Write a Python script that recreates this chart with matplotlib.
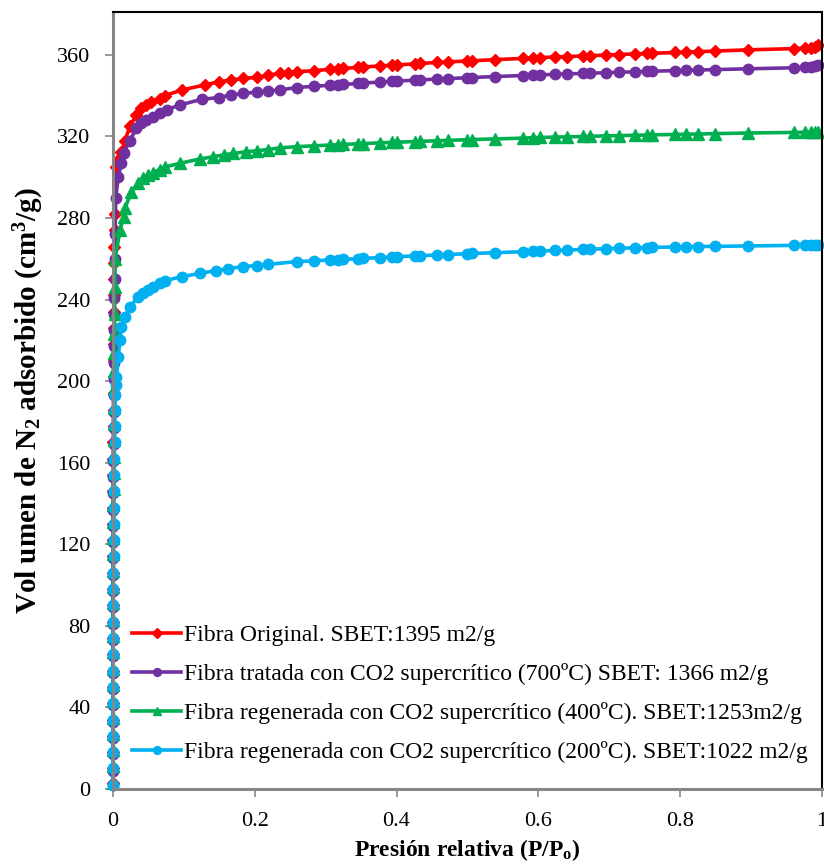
import matplotlib
matplotlib.use('Agg')
import matplotlib.pyplot as plt

plt.rcParams['font.family'] = ['Liberation Serif', 'DejaVu Serif']
plt.rcParams['mathtext.fontset'] = 'custom'
plt.rcParams['mathtext.rm'] = 'Liberation Serif:bold'
plt.rcParams['mathtext.it'] = 'Liberation Serif:bold'
plt.rcParams['mathtext.bf'] = 'Liberation Serif:bold'

# presiones comunes de la meseta (P/Po)
p_meseta = [0.283, 0.306, 0.318, 0.325, 0.346, 0.353, 0.377, 0.393, 0.400, 0.426,
            0.433, 0.457, 0.473, 0.499, 0.506, 0.539, 0.579, 0.593, 0.602, 0.623,
            0.640, 0.663, 0.673, 0.696, 0.713, 0.736, 0.753, 0.760, 0.793, 0.808,
            0.825, 0.849, 0.896, 0.961, 0.976, 0.985, 0.990, 0.995]

# Fibra original
x_orig = [0.00001, 0.00002, 0.00003, 0.00005, 0.00007, 0.0001, 0.00013, 0.00016, 0.0002,
          0.00025, 0.0003, 0.00035, 0.0004, 0.00045, 0.0005, 0.00055, 0.0006, 0.00065,
          0.0007, 0.00075, 0.0008, 0.00085, 0.0009, 0.00095, 0.001, 0.0011, 0.0012,
          0.0013, 0.0014, 0.0015, 0.0016, 0.0018, 0.002, 0.0022, 0.0025, 0.003,
          0.005, 0.008, 0.012, 0.017, 0.024, 0.033, 0.040, 0.047, 0.054, 0.066, 0.073,
          0.097, 0.130, 0.149, 0.167, 0.184, 0.203, 0.219, 0.235, 0.247, 0.259] + p_meseta
y_orig = [3, 10, 18, 26, 34, 42, 50, 58, 66, 74, 82, 90, 98, 106, 114, 122, 130, 138,
          146, 154, 162, 170, 178, 186, 194, 202, 210, 218, 226, 234, 242, 250, 258,
          266, 274, 282,
          305, 309, 312.5, 318, 325, 330.5, 334, 335.5, 337, 338.6, 340,
          342.8, 345.3, 346.8, 347.7, 348.5, 349, 350, 351, 351.3, 351.7,
          352.3, 352.9, 353.2, 353.4, 353.9, 354.1, 354.6, 355.0, 355.1, 355.6,
          355.8, 356.3, 356.6, 357.0, 357.1, 357.7, 358.3, 358.5, 358.7, 359.0,
          359.2, 359.5, 359.6, 360.0, 360.2, 360.5, 360.7, 360.8, 361.2, 361.4,
          361.6, 361.9, 362.5, 363.1, 363.4, 363.6, 364.0, 364.8]

# Fibra tratada 700ºC
x_700 = [0.00001, 0.00002, 0.00004, 0.00006, 0.00008, 0.0001, 0.00014, 0.00018, 0.00022,
         0.00027, 0.00032, 0.00037, 0.00042, 0.00047, 0.00052, 0.00057, 0.00062, 0.00067,
         0.00072, 0.00077, 0.00082, 0.00087, 0.00092, 0.001, 0.0011, 0.0012, 0.0013,
         0.0014, 0.0016, 0.0018, 0.002, 0.0023, 0.0026, 0.003, 0.004,
         0.0075, 0.012, 0.015, 0.024, 0.033, 0.040, 0.047, 0.057, 0.066, 0.076, 0.094,
         0.125, 0.149, 0.167, 0.184, 0.203, 0.219, 0.235, 0.259] + p_meseta
y_700 = [2, 9, 17, 25, 33, 41, 49, 57, 65, 73, 81, 89, 97, 105, 113, 121, 129, 137,
         145, 153, 161, 169, 177, 185, 193, 201, 209, 217, 225, 233, 241, 250, 260,
         272, 290,
         300, 307, 311.7, 318, 324, 326.4, 328, 329.7, 331.3, 333.2, 335.4,
         338.2, 339.1, 340.4, 341.2, 341.7, 342.3, 342.8, 344,
         344.6, 345.1, 345.4, 345.5, 346.0, 346.2, 346.7, 347.0, 347.2, 347.6,
         347.7, 348.2, 348.4, 348.8, 348.9, 349.4, 349.9, 350.1, 350.2, 350.5,
         350.7, 350.9, 351.0, 351.3, 351.5, 351.7, 351.9, 352.0, 352.3, 352.4,
         352.6, 352.8, 353.2, 353.7, 354.0, 354.2, 354.5, 355.0]

# Fibra regenerada 400ºC
x_400 = [0.00002, 0.00004, 0.00006, 0.00009, 0.00012, 0.00016, 0.0002, 0.00025, 0.0003,
         0.00035, 0.0004, 0.00046, 0.00052, 0.00058, 0.00064, 0.0007, 0.00077, 0.00084,
         0.0009, 0.001, 0.0011, 0.0012, 0.0013, 0.0014, 0.0016, 0.0018, 0.002, 0.0022,
         0.0024, 0.0027, 0.003,
         0.010, 0.015, 0.017, 0.026, 0.036, 0.043, 0.050, 0.057, 0.066, 0.073, 0.094,
         0.123, 0.141, 0.156, 0.170, 0.188, 0.203, 0.219, 0.235, 0.259] + p_meseta
y_400 = [3, 11, 19, 27, 35, 43, 51, 59, 67, 75, 83, 91, 99, 107, 115, 123, 131, 139,
         147, 155, 163, 171, 179, 187, 196, 205, 214, 223, 233, 246, 260,
         274, 280.6, 284.7, 292.8, 297, 299.4, 301, 302.2, 303.8, 305, 306.8,
         309, 310, 311, 311.7, 312.5, 313, 313.6, 314.4, 315,
         315.4, 315.8, 316.0, 316.1, 316.4, 316.5, 316.9, 317.1, 317.2, 317.5,
         317.6, 317.9, 318.1, 318.4, 318.5, 318.8, 319.2, 319.4, 319.5, 319.7,
         319.8, 320.0, 320.1, 320.3, 320.4, 320.6, 320.7, 320.8, 321.0, 321.1,
         321.2, 321.4, 321.7, 322.0, 322.1, 322.2, 322.3, 322.4]

# Fibra regenerada 200ºC
x_200 = [0.00002, 0.00005, 0.0001, 0.00015, 0.0002, 0.00026, 0.00032, 0.00038, 0.00045,
         0.00052, 0.0006, 0.00068, 0.00076, 0.00085, 0.00095, 0.0011, 0.0012, 0.0014,
         0.0016, 0.0018, 0.002, 0.0023, 0.0026, 0.003, 0.0035, 0.004,
         0.005, 0.0075, 0.010, 0.012, 0.017, 0.024, 0.036, 0.043, 0.050, 0.057, 0.066,
         0.073, 0.097, 0.123, 0.145, 0.163, 0.184, 0.203, 0.219, 0.259] + p_meseta
y_200 = [2, 10, 18, 26, 34, 42, 50, 58, 66, 74, 82, 90, 98, 106, 114, 122, 130, 138,
         146, 154, 162, 170, 178, 186, 193, 198,
         202, 212, 220, 226.7, 231.6, 236.5, 241.4, 243.1, 244.7, 246.3, 248,
         249.3, 251.2, 252.9, 254.2, 255.2, 256.2, 256.7, 257.3, 258.6,
         259.0, 259.4, 259.6, 259.7, 260.1, 260.2, 260.6, 260.9, 261.0, 261.4,
         261.5, 261.9, 262.1, 262.5, 262.6, 263.0, 263.5, 263.7, 263.8, 264.1,
         264.3, 264.6, 264.7, 265.0, 265.2, 265.4, 265.5, 265.6, 265.8, 265.9,
         266.0, 266.1, 266.3, 266.6, 266.7, 266.8, 266.9, 267.0]

etiquetas = ['Fibra Original. SBET:1395 m2/g',
             'Fibra tratada con CO2 supercrítico (700ºC) SBET: 1366 m2/g',
             'Fibra regenerada con CO2 supercrítico (400ºC). SBET:1253m2/g',
             'Fibra regenerada con CO2 supercrítico (200ºC). SBET:1022 m2/g']

fig = plt.figure(figsize=(8.24, 8.65), dpi=100)
ax = fig.add_axes([0.137, 0.088, 0.8606, 0.898])

ax.plot(x_orig, y_orig, color='#ff0000', lw=2.6, marker='D', ms=6.5, label=etiquetas[0], clip_on=False)
ax.plot(x_700, y_700, color='#7030a0', lw=2.6, marker='o', ms=7.5, label=etiquetas[1], clip_on=False)
ax.plot(x_400, y_400, color='#00b050', lw=2.6, marker='^', ms=8.5, label=etiquetas[2], clip_on=False)
ax.plot(x_200, y_200, color='#00b0f0', lw=2.6, marker='o', ms=7.5, label=etiquetas[3], clip_on=False)

ax.set_xlim(0, 1)
ax.set_ylim(0, 381)
ax.set_xticks([0, 0.2, 0.4, 0.6, 0.8, 1])
ax.set_xticklabels(['0', '0.2', '0.4', '0.6', '0.8', '1'])
ax.set_yticks(range(0, 361, 40))

for s in ['left', 'bottom']:
    ax.spines[s].set_color('#868686')
    ax.spines[s].set_linewidth(2.2)
for s in ['top', 'right']:
    ax.spines[s].set_color('black')
    ax.spines[s].set_linewidth(1.5)
ax.tick_params(direction='out', length=6, width=1.2, color='#868686', labelsize=16)
ax.tick_params(axis='x', pad=11)
ax.tick_params(axis='y', pad=10)

ax.set_xlabel('Presión relativa (P/P$_\\mathregular{o}$)', fontsize=17, fontweight='bold', labelpad=4)
ax.set_ylabel('Vol umen de N$_\\mathregular{2}$ adsorbido (cm$^\\mathregular{3}$/g)',
              fontsize=21, fontweight='bold', labelpad=8)

ax.legend(loc='lower left', bbox_to_anchor=(0.01, 0.018), frameon=False, fontsize=17,
          handlelength=2.1, handletextpad=0.1, labelspacing=0.72, borderpad=0, markerscale=0.75)

plt.savefig('out.png')
